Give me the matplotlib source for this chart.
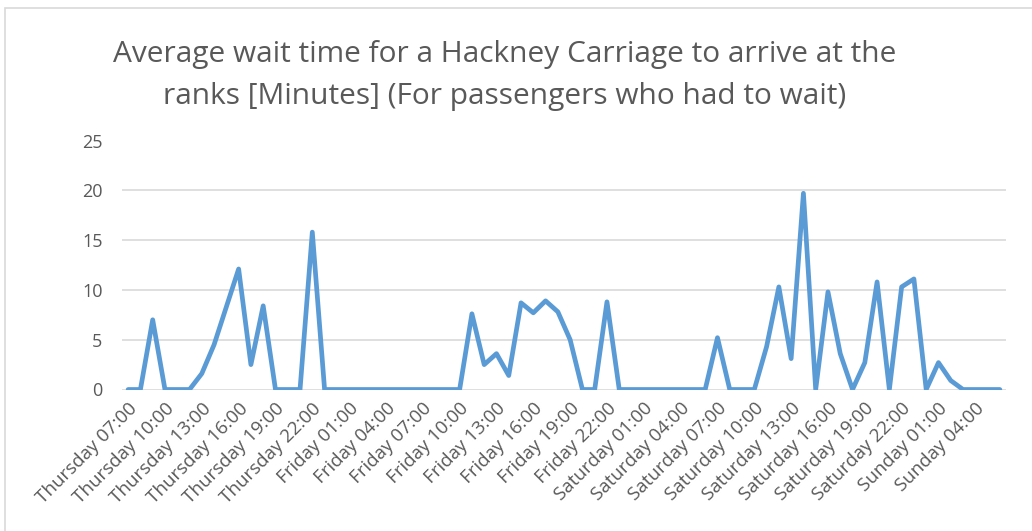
import matplotlib
matplotlib.use("Agg")
import matplotlib.pyplot as plt
from matplotlib.patches import Rectangle

plt.rcParams['font.family'] = ['Open Sans', 'DejaVu Sans']

# hourly averages, Thursday 07:00 to Sunday 06:00
days = ["Thursday"] * 17 + ["Friday"] * 24 + ["Saturday"] * 24 + ["Sunday"] * 7
hours = list(range(7, 24)) + list(range(24)) * 2 + list(range(7))
wait_minutes = [
    # Thursday 07-23
    0, 0, 7.0, 0, 0, 0, 1.6, 4.5, 8.3, 12.1, 2.5, 8.4, 0, 0, 0, 15.8, 0,
    # Friday 00-23
    0, 0, 0, 0, 0, 0, 0, 0, 0, 0, 0, 7.6, 2.5, 3.6, 1.4, 8.7, 7.7,
    8.9, 7.8, 5.0, 0, 0, 8.8, 0,
    # Saturday 00-23
    0, 0, 0, 0, 0, 0, 0, 5.2, 0, 0, 0, 4.3, 10.3, 3.1, 19.7, 0, 9.8,
    3.6, 0, 2.7, 10.8, 0, 10.3, 11.1,
    # Sunday 00-06
    0, 2.7, 0.9, 0, 0, 0, 0,
]
labels = [f"{d} {h:02d}:00" for d, h in zip(days, hours)]
title_lines = ["Average wait time for a Hackney Carriage to arrive at the",
               "ranks [Minutes] (For passengers who had to wait)"]

grey = "#595959"
fig = plt.figure(figsize=(10.32, 5.31), dpi=100)
fig.patches.append(Rectangle((5 / 1032, -0.1), 1.2, 1 - 8 / 531 + 0.1,
                             transform=fig.transFigure, fill=False,
                             edgecolor="#d9d9d9", linewidth=1.2))
ax = fig.add_axes([122 / 1032, 1 - 389.5 / 531, 884 / 1032, 249 / 531])

x = list(range(len(wait_minutes)))
ax.plot(x, wait_minutes, color="#5b9bd5", linewidth=3.4,
        solid_joinstyle="round", solid_capstyle="round", zorder=3)

ax.set_xlim(-0.5, len(wait_minutes) - 0.5)
ax.set_ylim(0, 25)
ax.set_yticks([0, 5, 10, 15, 20, 25])
ax.yaxis.grid(True, color="#d9d9d9", linewidth=1.2)
ax.set_axisbelow(True)
for s in ax.spines.values():
    s.set_visible(False)
ax.tick_params(axis="both", length=0, colors=grey)
ax.tick_params(axis="y", pad=14, labelsize=13)
ax.tick_params(axis="x", pad=7, labelsize=13.5)

ax.set_xticks(x[::3])
ax.set_xticklabels(labels[::3], rotation=45, ha="right",
                   rotation_mode="anchor")

for line, base in zip(title_lines, [62, 104]):
    fig.text(505 / 1032, 1 - base / 531, line, ha="center", va="baseline",
             fontsize=21.5, color=grey)

fig.savefig("out.png", dpi=100)
